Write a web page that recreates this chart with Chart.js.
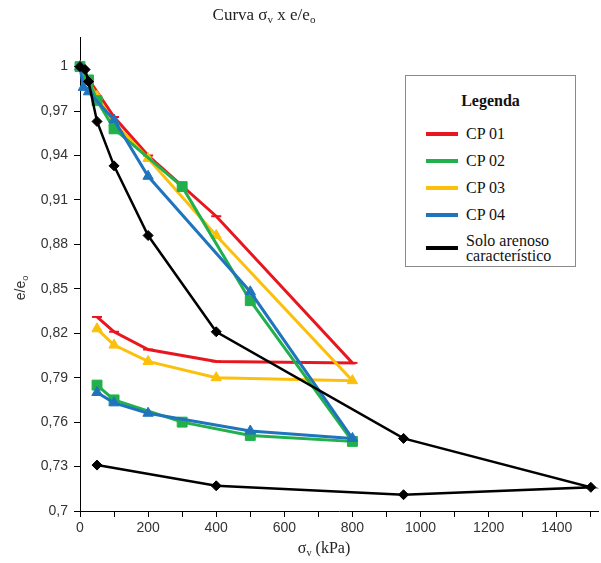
<!DOCTYPE html>
<html lang="pt">
<head>
  <meta charset="UTF-8">
  <title>Curva σv x e/eo</title>
  <script src="https://cdn.jsdelivr.net/npm/chart.js"></script>
  <style>
    body { margin: 0; background: #fff; }
    .wrap { position: relative; width: 601px; height: 563px; }
    canvas { position: absolute; left: 0; top: 0; }
    .title { position: absolute; top: 5px; left: 164px; width: 200px; text-align: center; font-family: 'Liberation Serif', serif; font-size: 17px; color: #222; }
    .xtitle { position: absolute; top: 539px; left: 274px; width: 100px; text-align: center; font-family: 'Liberation Serif', serif; font-size: 16px; color: #222; }
    .ytitle { position: absolute; left: -10px; top: 280px; width: 60px; text-align: center; font-family: 'Liberation Sans', sans-serif; font-size: 14px; color: #333; transform: rotate(-90deg); }
    sub { font-size: 65%; vertical-align: -3px; line-height: 0; }
    .legend { position: absolute; left: 405px; top: 75px; width: 171px; height: 192px; border: 1px solid #8a8a8a; background: #fff; font-family: 'Liberation Serif', serif; color: #111; box-sizing: border-box; }
    .legend h4 { margin: 16px 0 10px; text-align: center; font-size: 16px; font-weight: bold; }
    .legend .row { display: flex; align-items: center; margin-left: 20px; height: 27px; font-size: 16px; line-height: 15px; }
    .legend .swatch { width: 32px; height: 4px; margin-right: 8px; flex: none; }
  </style>
</head>
<body>
<div class="wrap">
  <canvas id="chart" width="601" height="563"></canvas>
  <div class="title">Curva σ<sub>v</sub> x e/e<sub>o</sub></div>
  <div class="xtitle">σ<sub>v</sub> (kPa)</div>
  <div class="ytitle">e/e<sub>o</sub></div>
  <div class="legend" id="legend"><h4>Legenda</h4></div>
</div>

<script>
// loading / unloading paths: vertical stress (kPa) and void ratio e/eo
const cp01Stress = [0, 100, 200, 400, 800, 400, 200, 100, 50];
const cp01Ratio  = [1.000, 0.966, 0.940, 0.899, 0.800, 0.801, 0.809, 0.821, 0.831];

const cp02Stress = [0, 25, 50, 100, 300, 500, 800, 500, 300, 100, 50];
const cp02Ratio  = [1.000, 0.991, 0.977, 0.958, 0.919, 0.842, 0.747, 0.751, 0.760, 0.775, 0.785];

const cp03Stress = [0, 25, 50, 100, 200, 400, 800, 400, 200, 100, 50];
const cp03Ratio  = [1.000, 0.990, 0.980, 0.962, 0.938, 0.886, 0.788, 0.790, 0.801, 0.812, 0.823];

const cp04Stress = [0, 10, 25, 100, 200, 500, 800, 500, 200, 100, 50];
const cp04Ratio  = [1.000, 0.986, 0.983, 0.964, 0.926, 0.848, 0.749, 0.754, 0.766, 0.773, 0.780];

const soloStress = [0, 15, 25, 50, 100, 200, 400, 950, 1500, 950, 400, 50];
const soloRatio  = [1.000, 0.998, 0.990, 0.963, 0.933, 0.886, 0.821, 0.749, 0.716, 0.711, 0.717, 0.731];

const xTicks = [0, 100, 200, 300, 400, 500, 600, 700, 800, 900, 1000, 1100, 1200, 1300, 1400, 1500];
const yTicks = [0.70, 0.73, 0.76, 0.79, 0.82, 0.85, 0.88, 0.91, 0.94, 0.97, 1.00];

const pts = (xs, ys) => xs.map((x, i) => ({ x: x, y: ys[i] }));

const series = [
  { label: 'CP 01', x: cp01Stress, y: cp01Ratio, color: '#e8161e', style: 'line', r: 5, order: 5 },
  { label: 'CP 02', x: cp02Stress, y: cp02Ratio, color: '#21b04b', style: 'rect', r: 7, order: 3 },
  { label: 'CP 03', x: cp03Stress, y: cp03Ratio, color: '#fcc00b', style: 'triangle', r: 6, order: 4 },
  { label: 'CP 04', x: cp04Stress, y: cp04Ratio, color: '#1f74bd', style: 'triangle', r: 6, order: 2 },
  { label: 'Solo arenoso<br>característico', x: soloStress, y: soloRatio, color: '#000000', style: 'rectRot', r: 5, order: 1 }
];

const legend = document.getElementById('legend');
series.forEach(s => {
  const row = document.createElement('div');
  row.className = 'row';
  if (s.label.includes('<br>')) row.style.height = '40px';
  row.innerHTML = '<span class="swatch" style="background:' + s.color + '"></span><span>' + s.label + '</span>';
  legend.appendChild(row);
});

new Chart(document.getElementById('chart'), {
  type: 'scatter',
  data: {
    datasets: series.map(s => ({
      label: s.label,
      data: pts(s.x, s.y),
      showLine: true,
      borderColor: s.color,
      backgroundColor: s.color,
      borderWidth: s.style === 'rectRot' ? 2.5 : 3,
      pointStyle: s.style,
      pointRadius: s.r,
      pointBorderWidth: s.style === 'line' ? 2 : 1,
      order: s.order,
      tension: 0,
      clip: false
    }))
  },
  options: {
    responsive: false,
    animation: false,
    layout: { autoPadding: false, padding: { top: 37, right: 3, left: 0, bottom: 0 } },
    plugins: { legend: { display: false }, title: { display: false }, tooltip: { enabled: false } },
    scales: {
      x: {
        type: 'linear', min: 0, max: 1521,
        afterBuildTicks: s => { s.ticks = xTicks.map(v => ({ value: v })); },
        afterFit: s => { s.height = 52; s.paddingRight = 0; s.paddingLeft = 0; },
        grid: { drawOnChartArea: false, tickLength: 6, color: '#000' },
        border: { color: '#000', width: 1 },
        ticks: {
          autoSkip: false, maxRotation: 0, padding: 3,
          color: '#333', font: { family: 'Liberation Sans', size: 14 },
          callback: v => (v % 200 === 0 ? String(v) : '')
        }
      },
      y: {
        type: 'linear', min: 0.7, max: 1.02,
        afterBuildTicks: s => { s.ticks = yTicks.map(v => ({ value: v })); },
        afterFit: s => { s.width = 80; },
        grid: { drawOnChartArea: false, tickLength: 6, color: '#000' },
        border: { color: '#000', width: 1 },
        ticks: {
          autoSkip: false, padding: 6,
          color: '#333', font: { family: 'Liberation Sans', size: 14 },
          callback: v => String(Number(v.toFixed(2))).replace('.', ',')
        }
      }
    }
  }
});
</script>
</body>
</html>
